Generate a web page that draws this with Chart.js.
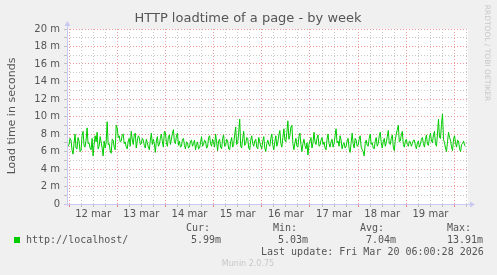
<!DOCTYPE html>
<html>
<head>
<meta charset="utf-8">
<script src="https://cdn.jsdelivr.net/npm/chart.js@4/dist/chart.umd.min.js"></script>
<style>
  html, body { margin: 0; padding: 0; background: #f0f0f0; }
  canvas { display: block; }
</style>
</head>
<body>
<canvas id="myChart" width="497" height="275"></canvas>
<script>
// half-hourly load time samples (ms), one array per day, starting 11 mar 23:00
const mar11 = [7.0, 6.6];
const mar12 = [6.8, 7.5, 7.3, 6.2, 5.7, 6.9, 8.0, 6.4, 6.3, 7.6, 7.2, 6.0, 6.1, 7.8, 8.3, 6.7, 6.5, 7.3, 8.7, 6.9, 7.0, 6.4, 6.2, 7.5, 5.5, 6.8, 7.8, 7.1, 8.2, 6.3, 6.6, 7.7, 7.1, 6.4, 5.5, 7.2, 6.4, 7.0, 9.4, 6.8, 6.9, 6.1, 5.8, 7.4, 7.3, 6.5, 6.2, 9.0];
const mar13 = [8.7, 7.6, 7.8, 7.1, 7.2, 7.9, 8.0, 6.9, 7.1, 6.5, 6.3, 7.2, 7.5, 6.6, 8.3, 7.4, 6.8, 7.9, 8.1, 6.4, 7.2, 7.8, 7.6, 6.8, 6.9, 7.5, 7.3, 6.7, 6.4, 7.4, 7.0, 6.5, 6.2, 7.3, 8.1, 6.8, 7.4, 6.9, 5.9, 7.2, 7.7, 6.6, 6.8, 7.5, 8.0, 7.1, 6.5, 8.3];
const mar14 = [8.2, 7.0, 6.6, 7.7, 7.9, 6.8, 7.4, 8.1, 8.5, 7.1, 6.9, 7.8, 8.1, 6.7, 7.2, 6.5, 6.6, 7.4, 7.5, 6.7, 6.3, 7.1, 7.0, 6.4, 6.5, 7.2, 7.3, 6.6, 6.9, 7.3, 6.2, 6.8, 7.1, 6.3, 6.4, 7.0, 7.7, 6.6, 6.8, 7.3, 7.2, 6.4, 6.5, 7.6, 7.8, 6.9, 6.6, 7.4];
const mar15 = [7.0, 6.5, 8.0, 7.1, 6.1, 7.2, 7.4, 6.5, 6.3, 7.5, 7.9, 6.6, 6.7, 7.4, 7.2, 6.3, 6.2, 7.1, 7.6, 6.5, 6.8, 7.9, 8.8, 6.8, 7.0, 8.2, 9.7, 6.6, 6.4, 7.5, 8.3, 6.7, 6.9, 7.6, 7.5, 6.4, 6.2, 7.3, 7.8, 6.9, 6.6, 7.2, 7.4, 6.5, 6.3, 7.6, 7.1, 6.6];
const mar16 = [6.3, 7.2, 7.7, 6.4, 6.0, 6.9, 7.3, 6.8, 6.6, 7.5, 8.0, 6.7, 6.2, 7.1, 7.8, 6.6, 7.0, 7.9, 8.4, 6.9, 6.5, 7.6, 8.6, 7.3, 7.1, 8.2, 9.5, 7.4, 7.8, 8.8, 9.0, 6.9, 6.2, 7.0, 7.5, 6.6, 6.5, 7.7, 8.1, 6.8, 6.0, 6.9, 7.4, 6.7, 6.3, 7.0, 5.6, 6.8];
const mar17 = [7.2, 7.6, 6.4, 7.0, 8.2, 7.1, 6.8, 7.5, 7.9, 6.6, 6.7, 7.3, 7.6, 6.8, 7.1, 6.4, 6.2, 7.4, 8.0, 6.9, 6.5, 7.1, 7.4, 6.5, 6.9, 7.8, 8.6, 7.0, 7.2, 6.6, 7.8, 7.3, 6.3, 6.8, 7.0, 6.4, 6.6, 7.2, 7.5, 6.3, 5.9, 7.0, 8.1, 6.9, 6.4, 7.5, 7.3, 6.6];
const mar18 = [6.7, 7.4, 7.8, 6.5, 6.2, 6.0, 5.5, 6.9, 7.3, 6.7, 6.6, 7.5, 8.0, 6.8, 7.0, 6.4, 6.3, 7.2, 7.6, 6.6, 6.9, 7.8, 8.2, 7.0, 6.4, 7.1, 7.5, 6.6, 7.0, 7.7, 8.4, 6.9, 6.8, 7.5, 7.9, 6.5, 6.1, 7.3, 8.0, 8.5, 9.0, 7.1, 7.2, 7.9, 8.3, 6.8, 6.5, 7.2];
const mar19 = [7.4, 6.8, 6.6, 7.2, 7.1, 6.6, 6.9, 7.3, 7.3, 6.7, 6.3, 7.0, 7.2, 6.5, 6.8, 7.4, 7.6, 6.9, 6.5, 7.4, 7.9, 6.8, 6.7, 7.6, 8.1, 7.2, 7.0, 7.9, 8.3, 6.9, 6.6, 8.0, 9.7, 7.6, 7.5, 9.1, 10.3, 7.4, 7.0, 6.4, 6.0, 7.1, 8.2, 7.6, 7.3, 6.5, 6.1, 7.4];
const mar20 = [7.8, 7.0, 6.5, 7.3, 7.2, 6.3, 6.0, 6.8, 6.9, 7.2, 6.7, 6.6];

const dayLabels = ['12 mar', '13 mar', '14 mar', '15 mar', '16 mar', '17 mar', '18 mar', '19 mar'];
const yTickValues = [0, 2, 4, 6, 8, 10, 12, 14, 16, 18, 20];
const seriesName = 'http://localhost/';
const statNames = ['Cur:', 'Min:', 'Avg:', 'Max:'];
const statValues = ['5.99m', '5.03m', '7.04m', '13.91m'];
const lastUpdate = 'Last update: Fri Mar 20 06:00:28 2026';

const samples = [].concat(mar11, mar12, mar13, mar14, mar15, mar16, mar17, mar18, mar19, mar20);
const points = samples.map((v, i) => ({ x: i / 2 - 1, y: v }));

const RED = '#eb9a9a';
const GRAY = '#c8c8c8';
const TXT = '#555555';

const munin = {
  id: 'munin',
  beforeDraw(chart) {
    const c = chart.ctx, a = chart.chartArea;
    c.save();
    c.fillStyle = '#f0f0f0';
    c.fillRect(0, 0, chart.width, chart.height);
    c.fillStyle = '#ffffff';
    c.fillRect(a.left, a.top, a.right - a.left, a.bottom - a.top);
    c.restore();
  },
  afterDraw(chart) {
    const c = chart.ctx, a = chart.chartArea;
    c.save();
    // axes with arrows
    c.strokeStyle = '#c8c8f0';
    c.fillStyle = '#c8c8f0';
    c.lineWidth = 1;
    c.beginPath();
    c.moveTo(a.left + 0.5, a.bottom + 2);
    c.lineTo(a.left + 0.5, a.top - 4);
    c.moveTo(a.left - 2, a.bottom + 0.5);
    c.lineTo(a.right + 3, a.bottom + 0.5);
    c.stroke();
    c.beginPath();
    c.moveTo(a.left - 2.5, a.top - 3);
    c.lineTo(a.left + 3.5, a.top - 3);
    c.lineTo(a.left + 0.5, a.top - 8);
    c.fill();
    c.beginPath();
    c.moveTo(a.right + 2, a.bottom - 2.5);
    c.lineTo(a.right + 2, a.bottom + 3.5);
    c.lineTo(a.right + 7, a.bottom + 0.5);
    c.fill();

    // title
    c.fillStyle = TXT;
    c.textBaseline = 'middle';
    c.textAlign = 'center';
    c.font = '13px "DejaVu Sans"';
    c.fillText('HTTP loadtime of a page - by week', 248, 19);

    // y axis title
    c.save();
    c.translate(12, 116);
    c.rotate(-Math.PI / 2);
    c.font = '11px "DejaVu Sans"';
    c.fillText('Load time in seconds', 0, 0);
    c.restore();

    // rrdtool credit
    c.save();
    c.translate(487, 53);
    c.rotate(Math.PI / 2);
    c.fillStyle = '#c8c8c8';
    c.font = '7.5px "DejaVu Sans"';
    c.fillText('RRDTOOL / TOBI OETIKER', 0, 0);
    c.restore();

    // legend
    c.textAlign = 'left';
    c.font = '10px "DejaVu Sans Mono"';
    const colX = [186, 273, 360, 447];
    const valX = [191, 278, 366, 447];
    statNames.forEach((s, i) => c.fillText(s, colX[i], 228));
    c.fillStyle = '#00cc00';
    c.fillRect(14, 237, 6, 6);
    c.fillStyle = TXT;
    c.fillText(seriesName, 26, 240);
    statValues.forEach((s, i) => c.fillText(s, valX[i], 240));
    c.fillText(lastUpdate, 261, 252);

    c.textAlign = 'center';
    c.fillStyle = '#c8c8c8';
    c.font = '8px "DejaVu Sans"';
    c.fillText('Munin 2.0.75', 248, 264);
    c.restore();
  }
};

new Chart(document.getElementById('myChart'), {
  type: 'line',
  data: {
    datasets: [{
      data: points,
      borderColor: '#00cc00',
      borderWidth: 1,
      pointRadius: 0,
      tension: 0,
      fill: false
    }]
  },
  options: {
    responsive: false,
    animation: false,
    devicePixelRatio: 1,
    layout: { padding: { top: 29, right: 29, left: 0, bottom: 51 } },
    plugins: { legend: { display: false }, tooltip: { enabled: false } },
    scales: {
      x: {
        type: 'linear',
        min: -1,
        max: 198.7,
        afterFit: (scale) => { scale.height = 20; },
        afterBuildTicks: (scale) => {
          const t = [];
          for (let h = 0; h <= 198; h += 6) t.push({ value: h });
          scale.ticks = t;
        },
        ticks: {
          autoSkip: false,
          maxRotation: 0,
          padding: 1,
          color: TXT,
          font: { family: 'DejaVu Sans', size: 10 },
          callback: (v) => (v % 24 === 12 ? dayLabels[(v - 12) / 24] || '' : '')
        },
        grid: {
          color: (ctx) => (ctx.tick && ctx.tick.value % 24 === 0 ? RED : GRAY),
          tickColor: (ctx) => (ctx.tick && ctx.tick.value % 24 === 0 ? '#e08080' : '#c0c0c0'),
          tickLength: 3,
          lineWidth: 1
        },
        border: { display: false, dash: [1, 2] }
      },
      y: {
        min: 0,
        max: 20,
        afterFit: (scale) => { scale.width = 67; },
        afterBuildTicks: (scale) => {
          const t = [];
          for (let v = 0; v <= 20; v += 1) t.push({ value: v });
          scale.ticks = t;
        },
        ticks: {
          autoSkip: false,
          padding: 4,
          color: TXT,
          font: { family: 'DejaVu Sans', size: 10 },
          callback: (v) => (yTickValues.includes(v) ? (v === 0 ? '0' : v + ' m') : '')
        },
        grid: {
          color: (ctx) => (ctx.tick && ctx.tick.value % 2 === 0 ? RED : GRAY),
          tickColor: '#c0c0c0',
          tickLength: 3,
          lineWidth: 1
        },
        border: { display: false, dash: [1, 2] }
      }
    }
  },
  plugins: [munin]
});
</script>
</body>
</html>
